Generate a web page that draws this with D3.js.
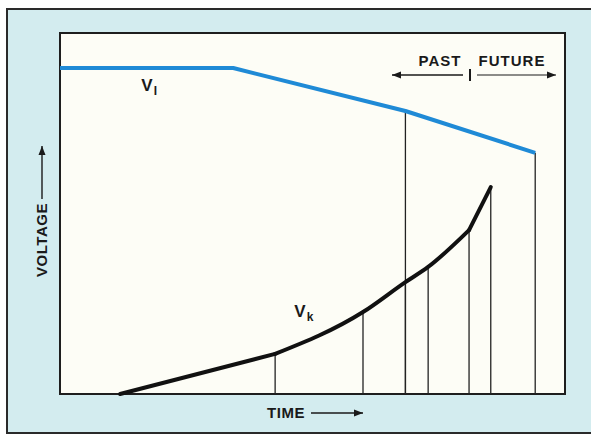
<!DOCTYPE html>
<html>
<head>
<meta charset="utf-8">
<script src="https://cdn.jsdelivr.net/npm/d3@7"></script>
<style>
  html, body { margin: 0; padding: 0; background: #ffffff; }
  svg { display: block; }
  text { font-family: "Liberation Sans", Arial, Helvetica, sans-serif; font-weight: bold; fill: #1a1a1a; }
</style>
</head>
<body>
<svg id="chart" width="591" height="438"></svg>
<script>
// Reference voltage V_I: flat, then falling off (time, voltage in arbitrary units 0-100)
const vlTime = [0, 34.3, 68.4, 94.1];
const vlVolt = [90.3, 90.3, 78.4, 66.8];

// Kinetic voltage V_k: rising curve, last step is a straight jump
const vkTime = [11.9, 42.6, 60.0, 68.4, 72.9, 81.0, 85.3];
const vkVolt = [0, 11.1, 22.7, 31.0, 35.2, 45.4, 57.3];

// "Now" divides past from future; the horizon ends the future window
const presentTime = 68.4;
const horizonTime = 94.1;

const axisLabels = { x: "TIME", y: "VOLTAGE" };
const windowLabels = ["PAST", "FUTURE"];

const svg = d3.select("#chart");

const plot = { left: 60, top: 33, right: 565, bottom: 394 };
const x = d3.scaleLinear().domain([0, 100]).range([plot.left, plot.right]);
const y = d3.scaleLinear().domain([0, 100]).range([plot.bottom, plot.top]);

const vl = vlTime.map((t, i) => ({ t, v: vlVolt[i] }));
const vk = vkTime.map((t, i) => ({ t, v: vkVolt[i] }));
const vlAt = t => {
  for (let i = 1; i < vl.length; i++) {
    if (t <= vl[i].t) {
      const a = vl[i - 1], b = vl[i];
      return a.v + (b.v - a.v) * (t - a.t) / (b.t - a.t);
    }
  }
  return vl[vl.length - 1].v;
};

// Outer panel
svg.append("rect")
  .attr("x", 7).attr("y", 9)
  .attr("width", 600).attr("height", 424)
  .attr("fill", "#d3ecef")
  .attr("stroke", "#2a2a2a").attr("stroke-width", 2);

// Plot area
svg.append("rect")
  .attr("x", plot.left).attr("y", plot.top)
  .attr("width", plot.right - plot.left).attr("height", plot.bottom - plot.top)
  .attr("fill", "#fdfdf6")
  .attr("stroke", "#1e1e1e").attr("stroke-width", 2);

// Sample lines under the V_k curve
svg.append("g").selectAll("line")
  .data(vk.slice(1))
  .join("line")
  .attr("x1", d => x(d.t)).attr("x2", d => x(d.t))
  .attr("y1", d => y(d.v)).attr("y2", y(0))
  .attr("stroke", "#222").attr("stroke-width", 1.3);

// Present and horizon lines reaching up to V_I
svg.append("g").selectAll("line")
  .data([presentTime, horizonTime])
  .join("line")
  .attr("x1", d => x(d)).attr("x2", d => x(d))
  .attr("y1", d => y(vlAt(d))).attr("y2", y(0))
  .attr("stroke", "#222").attr("stroke-width", 1.3);

// V_I line
svg.append("path")
  .datum(vl)
  .attr("d", d3.line().x(d => x(d.t)).y(d => y(d.v)))
  .attr("fill", "none")
  .attr("stroke", "#1f8ad6").attr("stroke-width", 4)
  .attr("stroke-linejoin", "round");

// V_k curve: straight start, smooth rise, then a straight final segment
const vkStroke = p => p.attr("fill", "none")
  .attr("stroke", "#111").attr("stroke-width", 4)
  .attr("stroke-linecap", "round");
const straight = d3.line().x(d => x(d.t)).y(d => y(d.v));
svg.append("path").datum(vk.slice(0, 2)).attr("d", straight).call(vkStroke);
svg.append("path")
  .datum(vk.slice(1, vk.length - 1))
  .attr("d", d3.line().x(d => x(d.t)).y(d => y(d.v)).curve(d3.curveMonotoneX))
  .call(vkStroke);
svg.append("path").datum(vk.slice(vk.length - 2)).attr("d", straight).call(vkStroke);

// Curve labels with subscripts
function subLabel(px, py, main, sub) {
  const t = svg.append("text").attr("x", px).attr("y", py).attr("font-size", 17);
  t.append("tspan").text(main);
  t.append("tspan").attr("dy", 4).attr("dx", 1).attr("font-size", 12).text(sub);
}
subLabel(x(16.1), y(83.8), "V", "I");
subLabel(x(46.4), y(21.3), "V", "k");

// Arrow helper
function arrow(x1, y1, x2, y2, w) {
  svg.append("line")
    .attr("x1", x1).attr("y1", y1).attr("x2", x2).attr("y2", y2)
    .attr("stroke", "#1a1a1a").attr("stroke-width", w);
  const ang = Math.atan2(y2 - y1, x2 - x1);
  const L = 9, H = 3.5;
  const p = [
    [x2, y2],
    [x2 - L * Math.cos(ang) + H * Math.sin(ang), y2 - L * Math.sin(ang) - H * Math.cos(ang)],
    [x2 - L * Math.cos(ang) - H * Math.sin(ang), y2 - L * Math.sin(ang) + H * Math.cos(ang)]
  ];
  svg.append("path").attr("d", "M" + p.join("L") + "Z").attr("fill", "#1a1a1a");
}

// Past / future window markers
svg.append("text").attr("x", 440).attr("y", 66).attr("text-anchor", "middle")
  .attr("font-size", 15).attr("letter-spacing", 1).text(windowLabels[0]);
svg.append("text").attr("x", 512).attr("y", 66).attr("text-anchor", "middle")
  .attr("font-size", 15).attr("letter-spacing", 1).text(windowLabels[1]);
arrow(463, 75, 392, 75, 1.6);
arrow(477, 75, 556, 75, 1.2);
svg.append("line").attr("x1", 470).attr("x2", 470).attr("y1", 69).attr("y2", 81)
  .attr("stroke", "#1a1a1a").attr("stroke-width", 2);

// Axis titles
svg.append("text").attr("x", 286).attr("y", 418).attr("text-anchor", "middle")
  .attr("font-size", 15).attr("letter-spacing", 0.5).text(axisLabels.x);
arrow(311, 413, 363, 413, 1.4);

svg.append("text")
  .attr("transform", "translate(47,240) rotate(-90)")
  .attr("text-anchor", "middle")
  .attr("font-size", 15).attr("letter-spacing", 0.5).text(axisLabels.y);
arrow(42, 199, 42, 146, 1.4);
</script>
</body>
</html>
